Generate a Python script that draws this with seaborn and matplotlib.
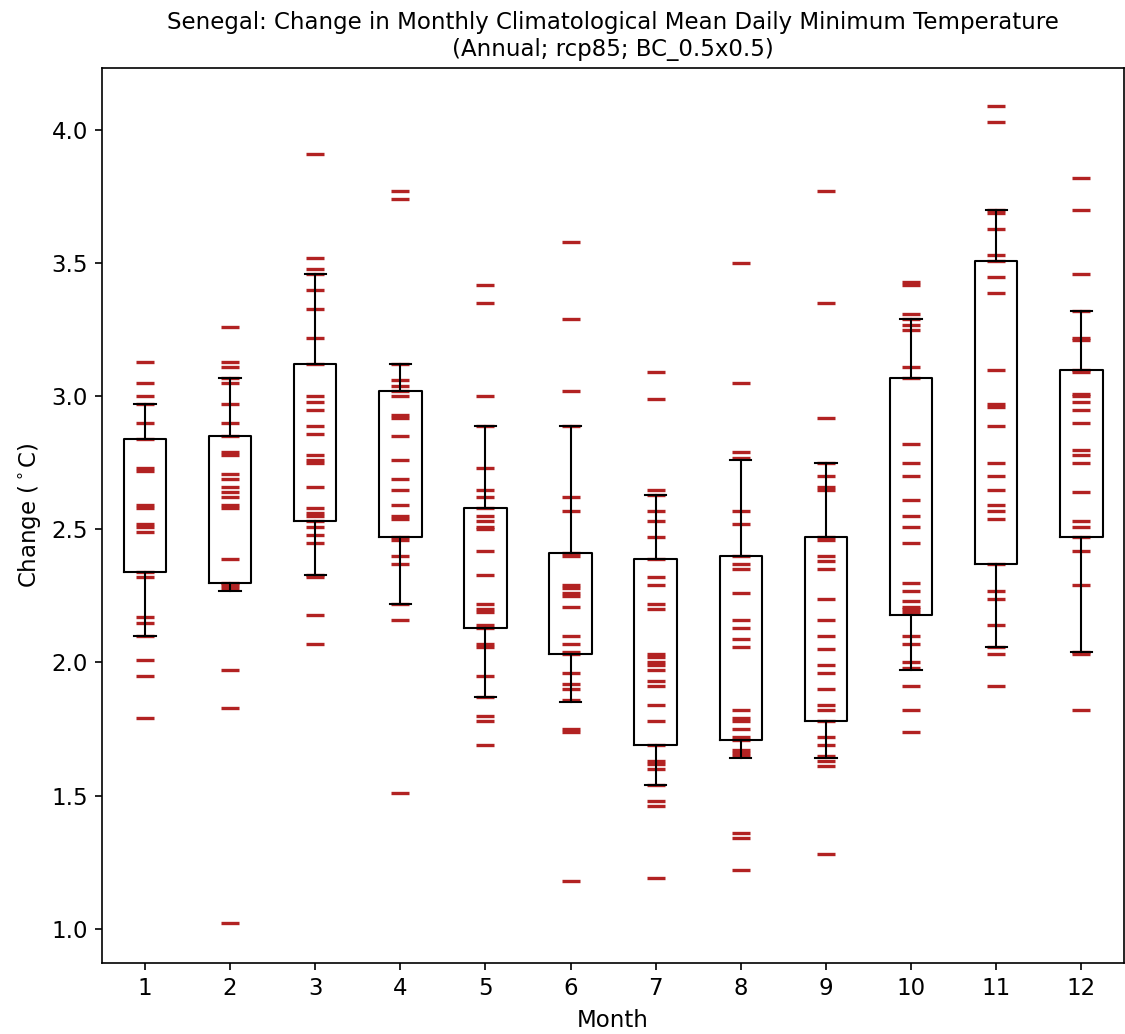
import numpy as np
import pandas as pd
import seaborn as sns
import matplotlib
matplotlib.use("Agg")
import matplotlib.pyplot as plt

plt.rcParams["font.size"] = 11

months = list(range(1, 13))

# model values per month
m1 = [3.13, 3.05, 3.00, 2.97, 2.90, 2.84, 2.73, 2.72, 2.59, 2.58, 2.52, 2.51, 2.49,
      2.34, 2.32, 2.17, 2.15, 2.10, 2.01, 1.95, 1.79]
m2 = [3.26, 3.13, 3.11, 3.07, 3.05, 2.97, 2.90, 2.85, 2.79, 2.78, 2.71, 2.69, 2.66,
      2.64, 2.62, 2.59, 2.58, 2.39, 2.30, 2.29, 2.28, 1.97, 1.83, 1.02]
m3 = [3.91, 3.52, 3.48, 3.46, 3.40, 3.33, 3.22, 3.12, 3.00, 2.98, 2.95, 2.89, 2.86,
      2.78, 2.76, 2.75, 2.66, 2.58, 2.56, 2.55, 2.53, 2.51, 2.48, 2.45, 2.33, 2.32,
      2.18, 2.07]
m4 = [3.77, 3.74, 3.12, 3.06, 3.04, 3.02, 3.00, 2.93, 2.92, 2.85, 2.76, 2.69, 2.65,
      2.59, 2.55, 2.54, 2.47, 2.46, 2.40, 2.37, 2.22, 2.16, 1.51]
m5 = [3.42, 3.35, 3.00, 2.89, 2.73, 2.65, 2.62, 2.58, 2.55, 2.53, 2.51, 2.50, 2.42,
      2.33, 2.22, 2.20, 2.19, 2.14, 2.13, 2.07, 2.06, 1.95, 1.87, 1.80, 1.78, 1.69]
m6 = [3.58, 3.29, 3.02, 2.89, 2.62, 2.57, 2.41, 2.40, 2.29, 2.28, 2.26, 2.25, 2.21,
      2.10, 2.07, 2.04, 2.03, 1.96, 1.92, 1.90, 1.86, 1.75, 1.74, 1.18]
m7 = [3.09, 2.99, 2.65, 2.63, 2.57, 2.53, 2.47, 2.39, 2.32, 2.29, 2.22, 2.20, 2.03,
      2.02, 2.00, 1.99, 1.97, 1.93, 1.91, 1.84, 1.78, 1.69, 1.63, 1.62, 1.60, 1.54,
      1.48, 1.46, 1.19]
m8 = [3.50, 3.05, 2.79, 2.77, 2.57, 2.52, 2.40, 2.37, 2.35, 2.26, 2.16, 2.13, 2.09,
      2.06, 1.82, 1.79, 1.78, 1.75, 1.72, 1.71, 1.67, 1.66, 1.65, 1.36, 1.34, 1.22]
m9 = [3.77, 3.35, 2.92, 2.75, 2.70, 2.66, 2.65, 2.47, 2.46, 2.40, 2.38, 2.35, 2.24,
      2.16, 2.10, 2.05, 1.99, 1.96, 1.90, 1.84, 1.82, 1.78, 1.72, 1.69, 1.65, 1.63,
      1.61, 1.28]
m10 = [3.43, 3.42, 3.31, 3.29, 3.27, 3.25, 3.11, 3.07, 2.82, 2.75, 2.70, 2.61, 2.55,
       2.51, 2.45, 2.30, 2.27, 2.23, 2.21, 2.20, 2.19, 2.10, 2.07, 2.00, 1.98, 1.91,
       1.82, 1.74]
m11 = [4.09, 4.03, 3.70, 3.69, 3.63, 3.53, 3.51, 3.45, 3.39, 3.10, 2.97, 2.96, 2.89,
       2.75, 2.70, 2.65, 2.59, 2.57, 2.54, 2.37, 2.27, 2.24, 2.14, 2.06, 2.03, 1.91]
m12 = [3.82, 3.70, 3.46, 3.32, 3.22, 3.21, 3.10, 3.09, 3.01, 3.00, 2.98, 2.95, 2.90,
       2.80, 2.78, 2.75, 2.64, 2.53, 2.51, 2.47, 2.42, 2.29, 2.04, 2.03, 1.82]
values = [m1, m2, m3, m4, m5, m6, m7, m8, m9, m10, m11, m12]

# box statistics
q1 = [2.34, 2.30, 2.53, 2.47, 2.13, 2.03, 1.69, 1.71, 1.78, 2.18, 2.37, 2.47]
q3 = [2.84, 2.85, 3.12, 3.02, 2.58, 2.41, 2.39, 2.40, 2.47, 3.07, 3.51, 3.10]
whis_lo = [2.10, 2.27, 2.33, 2.22, 1.87, 1.85, 1.54, 1.64, 1.64, 1.97, 2.06, 2.04]
whis_hi = [2.97, 3.07, 3.46, 3.12, 2.89, 2.89, 2.63, 2.76, 2.75, 3.29, 3.70, 3.32]

df = pd.DataFrame({
    "Month": np.concatenate([[m] * len(v) for m, v in zip(months, values)]),
    "Change": np.concatenate(values),
})

fig, ax = plt.subplots(figsize=(7.5, 1034 / 150), dpi=150)
fig.subplots_adjust(left=0.091, right=0.999, top=0.934, bottom=0.069)

sns.scatterplot(data=df, x="Month", y="Change", marker="_", s=70,
                color="firebrick", linewidth=1.6, ax=ax, zorder=1)

stats = []
for i in range(12):
    stats.append({"med": (q1[i] + q3[i]) / 2, "q1": q1[i], "q3": q3[i],
                  "whislo": whis_lo[i], "whishi": whis_hi[i], "fliers": []})
ax.bxp(stats, positions=months, widths=0.5, showfliers=False,
       medianprops=dict(linewidth=0),
       boxprops=dict(color="black", linewidth=1),
       whiskerprops=dict(color="black", linewidth=1),
       capprops=dict(color="black", linewidth=1))

ax.set_xlim(0.5, 12.5)
ax.set_xticks(months)
ax.set_xticklabels([str(m) for m in months])
ax.set_yticks([1.0, 1.5, 2.0, 2.5, 3.0, 3.5, 4.0])
ax.set_ylim(0.872, 4.233)
ax.set_xlabel("Month")
ax.set_ylabel(r"Change ($^\circ$C)")
ax.set_title("Senegal: Change in Monthly Climatological Mean Daily Minimum Temperature\n"
             "(Annual; rcp85; BC_0.5x0.5)", fontsize=11)

fig.savefig("out.png", dpi=150)
